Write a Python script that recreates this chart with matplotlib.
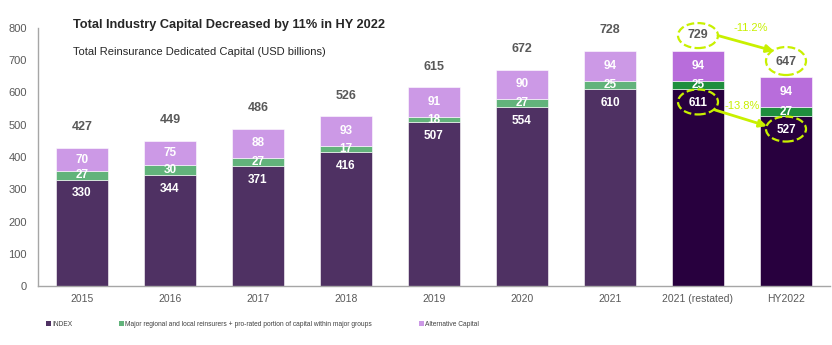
import matplotlib
matplotlib.use("Agg")
import matplotlib.pyplot as plt
from matplotlib.patches import Ellipse, Patch
from matplotlib import font_manager

# ---- data (USD billions) ----
categories = ["2015", "2016", "2017", "2018", "2019", "2020", "2021", "2021 (restated)", "HY2022"]
index_cap = [330, 344, 371, 416, 507, 554, 610, 611, 527]
regional_cap = [27, 30, 27, 17, 18, 27, 25, 25, 27]
alternative_cap = [70, 75, 88, 93, 91, 90, 94, 94, 94]
totals = [427, 449, 486, 526, 615, 672, 728, 729, 647]
total_change = "-11.2%"
index_change = "-13.8%"

series_names = ["INDEX",
                "Major regional and local reinsurers + pro-rated portion of capital within major groups",
                "Alternative Capital"]

names = {f.name for f in font_manager.fontManager.ttflist}
base_font = "Liberation Sans" if "Liberation Sans" in names else "DejaVu Sans"
plt.rcParams["font.family"] = [base_font, "DejaVu Sans"]

# colours: historical years vs restated / half-year bars
c_index = ["#4F3163"] * 7 + ["#28003E"] * 2
c_reg = ["#62B37B"] * 7 + ["#1F8E3E"] * 2
c_alt = ["#CC99E6"] * 7 + ["#B86DDB"] * 2
hl = "#C8F000"
grey_txt = "#595959"

W, H = 832, 345
fig = plt.figure(figsize=(W / 100, H / 100), dpi=100)
ax = fig.add_axes([38 / W, 1 - 286 / H, (830 - 38) / W, (286 - 28) / H])

x = list(range(len(categories)))
bw = 0.58
ax.bar(x, index_cap, bw, color=c_index, edgecolor="#FFFFFF", linewidth=0.4)
ax.bar(x, regional_cap, bw, bottom=index_cap, color=c_reg, edgecolor="#FFFFFF", linewidth=0.4)
bottom3 = [a + b for a, b in zip(index_cap, regional_cap)]
ax.bar(x, alternative_cap, bw, bottom=bottom3, color=c_alt, edgecolor="#FFFFFF", linewidth=0.4)

ax.set_xlim(-0.5, 8.5)
ax.set_ylim(0, 800)
ax.set_yticks(range(0, 801, 100))
ax.set_xticks(x)
ax.set_xticklabels(categories)
ax.tick_params(axis="x", length=0, labelsize=7.5, labelcolor=grey_txt, pad=6)
ax.tick_params(axis="y", length=0, labelsize=8, labelcolor=grey_txt, pad=8)
for s in ["top", "right"]:
    ax.spines[s].set_visible(False)
for s in ["left", "bottom"]:
    ax.spines[s].set_color("#A6A6A6")
    ax.spines[s].set_linewidth(1.0)

lbl = dict(color="white", fontsize=8.5, fontweight="bold", ha="center", va="center")
for i in x:
    ax.annotate(str(index_cap[i]), (i, index_cap[i]), xytext=(0, -10), textcoords="offset points", **lbl)
    ax.text(i, index_cap[i] + regional_cap[i] / 2, str(regional_cap[i]), **lbl)
    ax.text(i, bottom3[i] + alternative_cap[i] / 2, str(alternative_cap[i]), **lbl)
    top = bottom3[i] + alternative_cap[i]
    ax.annotate(str(totals[i]), (i, top), xytext=(0, 11 if i >= 7 else 15),
                textcoords="offset points", ha="center", va="center",
                color=grey_txt, fontsize=9, fontweight="bold")

# highlight rings and change arrows
px_x = 1 / 88.0
px_y = 800 / 258.0
ew, eh = 40 * px_x, 25 * px_y
y729 = bottom3[7] + alternative_cap[7] + 15 * px_y
y647 = bottom3[8] + alternative_cap[8] + 16 * px_y
yi7 = index_cap[7] - 13 * px_y
yi8 = index_cap[8] - 13 * px_y
rings = [(7, y729, eh), (8, y647, 28 * px_y), (7, yi7, eh), (8, yi8, eh)]
for cx, cy, h in rings:
    ax.add_patch(Ellipse((cx, cy), ew, h, fill=False, edgecolor=hl, linewidth=1.6,
                         linestyle=(0, (3.5, 1.5)), clip_on=False, zorder=5))

arrow = dict(arrowstyle="-|>", color=hl, lw=2, mutation_scale=11, shrinkA=0, shrinkB=0)
ax.annotate("", xy=(8 - 12 * px_x, y647 + 10 * px_y), xytext=(7 + 20 * px_x, y729),
            arrowprops=arrow, annotation_clip=False, zorder=6)
ax.annotate("", xy=(8 - 19 * px_x, yi8 + 3 * px_y), xytext=(7 + 17 * px_x, yi7 - 8 * px_y),
            arrowprops=arrow, annotation_clip=False, zorder=6)
ax.text(7.6, y729 + 8 * px_y, total_change, color=hl, fontsize=8, ha="center", va="center")
ax.text(7.5, yi7 - 4 * px_y, index_change, color=hl, fontsize=8, ha="center", va="center")

# titles
fig.text(73 / W, 1 - 25 / H, "Total Industry Capital Decreased by 11% in HY 2022",
         fontsize=9.2, fontweight="bold", color="#262626", va="center", ha="left")
fig.text(73 / W, 1 - 52 / H, "Total Reinsurance Dedicated Capital (USD billions)",
         fontsize=8, color="#262626", va="center", ha="left")

# legend
handles = [Patch(facecolor=c_index[0]), Patch(facecolor=c_reg[0]), Patch(facecolor=c_alt[0])]
leg = fig.legend(handles, series_names, loc="center left", bbox_to_anchor=(46 / W, 1 - 324 / H),
                 ncol=3, frameon=False, handlelength=0.75, handleheight=0.75, handletextpad=0.2,
                 columnspacing=7.0, borderaxespad=0, borderpad=0,
                 prop={"size": 4.8})
for t in leg.get_texts():
    t.set_color("#404040")

fig.savefig("out.png", dpi=100)
